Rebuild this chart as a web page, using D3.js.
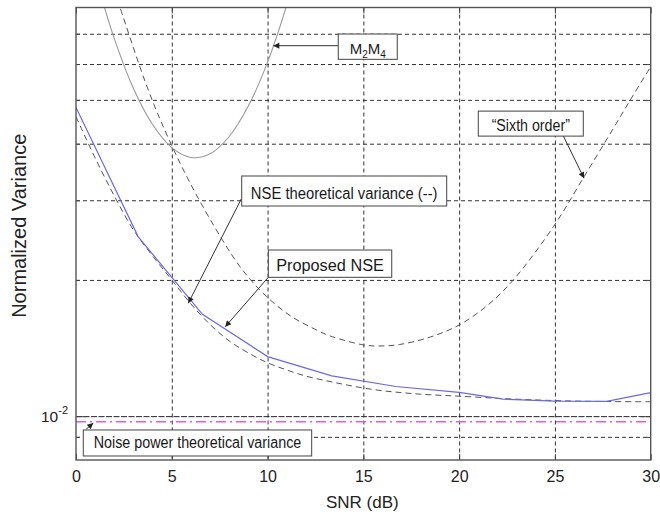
<!DOCTYPE html>
<html>
<head>
<meta charset="utf-8">
<script src="https://cdn.jsdelivr.net/npm/d3@7"></script>
<style>
  body { margin: 0; background: #fff; }
  svg { display: block; font-family: Arial, "Liberation Sans", sans-serif; }
</style>
</head>
<body>
<svg id="chart" width="660" height="514"></svg>
<script>
// ---- axes ----
const snrDomain = [0, 30];
const snrTicks = [0, 5, 10, 15, 20, 25, 30];
const varDomain = [0.008, 0.08];
const varGrid = [0.009, 0.01, 0.02, 0.03, 0.04, 0.05, 0.06, 0.07];

// ---- Proposed NSE (simulated) ----
const proposedSnr = [0, 3.25, 6.6, 10, 13.35, 16.7, 20, 22.3, 25, 27.7, 30];
const proposedVar = [0.0481, 0.0249, 0.01679, 0.01354, 0.01227, 0.01163, 0.01129, 0.01090, 0.01079, 0.01078, 0.01127];

// ---- NSE theoretical variance ----
const theorySnr = [0, 1, 2, 3, 4, 5, 6, 7, 8, 9, 10, 11, 12, 13, 14, 15, 16, 17, 18, 19, 20, 22, 24, 26, 28, 30];
const theoryVar = [0.0459, 0.0372, 0.03066, 0.02579, 0.02259, 0.0200, 0.0177, 0.01594, 0.01466, 0.01379, 0.01312,
                   0.01265, 0.01226, 0.01199, 0.01175, 0.01154, 0.01138, 0.01127, 0.01118, 0.01112, 0.01107,
                   0.01095, 0.01086, 0.01080, 0.01077, 0.01076];

// ---- "Sixth order" estimator ----
const sixthSnr = [2.0, 2.3, 3.77, 4.96, 6.4, 8.31, 9.12, 9.95, 11.2, 12.56, 13.26, 15.0, 15.8, 16.9, 18.5, 20, 21.5, 22.83, 24.92, 26.48, 28.0, 29.0, 30];
const sixthVar = [0.0874, 0.0800, 0.0526, 0.03995, 0.0302, 0.02214, 0.0200, 0.01837, 0.01665, 0.0155, 0.01504,
                  0.01437, 0.01429, 0.0144, 0.01496, 0.0159, 0.0176, 0.0200, 0.02622, 0.0336, 0.0429, 0.0505, 0.0592];

// ---- M2M4 estimator ----
const m2m4Snr = [1, 2, 3, 4, 5, 6, 7, 8, 9, 10, 11, 12];
const m2m4Var = [0.0941, 0.0683, 0.0530, 0.0441, 0.0392, 0.0373, 0.0380, 0.0415, 0.0485, 0.0606, 0.0810, 0.116];

// ---- noise power theoretical variance ----
const noiseSnr = [0, 30];
const noiseVar = [0.00972, 0.00972];

// ---- layout ----
const W = 660, H = 514;
const m = { top: 7.5, right: 9.3, bottom: 54, left: 76 };
const svg = d3.select("#chart");

const x = d3.scaleLinear().domain(snrDomain).range([m.left, W - m.right]);
const y = d3.scaleLog().domain(varDomain).range([H - m.bottom, m.top]);
const pw = W - m.left - m.right, ph = H - m.top - m.bottom;

svg.append("defs").append("clipPath").attr("id", "plot-clip")
  .append("rect").attr("x", m.left).attr("y", m.top).attr("width", pw).attr("height", ph);

const marker = svg.select("defs").append("marker")
  .attr("id", "arrow").attr("viewBox", "0 0 10 10")
  .attr("refX", 10).attr("refY", 5)
  .attr("markerWidth", 8).attr("markerHeight", 6)
  .attr("markerUnits", "userSpaceOnUse")
  .attr("orient", "auto");
marker.append("path").attr("d", "M0,0 L10,5 L0,10 Z").attr("fill", "#222");

// ---- grid ----
const grid = svg.append("g").attr("class", "grid");
grid.append("g")
  .attr("transform", `translate(0,${m.top})`)
  .call(d3.axisBottom(x).tickValues(snrTicks.filter(d => d > snrDomain[0] && d < snrDomain[1]))
    .tickSize(ph).tickFormat(""))
  .call(g => g.select(".domain").remove())
  .selectAll("line")
  .attr("stroke", "#333").attr("stroke-width", 1).attr("stroke-dasharray", "4,3");

grid.append("g")
  .attr("transform", `translate(${m.left},0)`)
  .call(d3.axisRight(y).tickValues(varGrid).tickSize(pw).tickFormat(""))
  .call(g => g.select(".domain").remove())
  .selectAll("line")
  .attr("stroke", d => d === 0.01 ? "#222" : "#333")
  .attr("stroke-width", 1)
  .attr("stroke-dasharray", d => d === 0.01 ? "6,1.5" : "4,3");

// ---- curves ----
const curves = svg.append("g").attr("clip-path", "url(#plot-clip)");
const zip = (xs, ys) => xs.map((v, i) => [v, ys[i]]);
const smooth = d3.line().x(d => x(d[0])).y(d => y(d[1])).curve(d3.curveCatmullRom.alpha(0.5));
const straight = d3.line().x(d => x(d[0])).y(d => y(d[1]));

curves.append("path").datum(zip(m2m4Snr, m2m4Var)).attr("d", smooth)
  .attr("fill", "none").attr("stroke", "#9a9a9a").attr("stroke-width", 1.1);

curves.append("path").datum(zip(sixthSnr, sixthVar)).attr("d", smooth)
  .attr("fill", "none").attr("stroke", "#555").attr("stroke-width", 1).attr("stroke-dasharray", "6,4");

curves.append("path").datum(zip(theorySnr, theoryVar)).attr("d", smooth)
  .attr("fill", "none").attr("stroke", "#555").attr("stroke-width", 1).attr("stroke-dasharray", "6,4");

curves.append("path").datum(zip(noiseSnr, noiseVar)).attr("d", straight)
  .attr("fill", "none").attr("stroke", "#e35be3").attr("stroke-width", 1.5).attr("stroke-dasharray", "10,4,2,4");

curves.append("path").datum(zip(proposedSnr, proposedVar)).attr("d", straight)
  .attr("fill", "none").attr("stroke", "#6a6ae6").attr("stroke-width", 1.2);

// ---- frame and ticks ----
const frame = svg.append("g");
frame.append("g").attr("transform", `translate(0,${H - m.bottom})`)
  .call(d3.axisBottom(x).tickValues(snrTicks).tickSize(-6).tickFormat(d3.format("d")))
  .call(g => g.select(".domain").remove())
  .call(g => g.selectAll("line").attr("stroke", "#444"))
  .call(g => g.selectAll("text").attr("y", 22).attr("dy", null)
    .attr("font-size", 16).attr("fill", "#222").attr("font-family", "Arial, 'Liberation Sans', sans-serif"));

frame.append("g").attr("transform", `translate(0,${m.top})`)
  .call(d3.axisTop(x).tickValues(snrTicks).tickSize(-6).tickFormat(""))
  .call(g => g.select(".domain").remove())
  .call(g => g.selectAll("line").attr("stroke", "#444"));

frame.append("g").attr("transform", `translate(${m.left},0)`)
  .call(d3.axisLeft(y).tickValues(varGrid).tickSize(-4).tickFormat(""))
  .call(g => g.select(".domain").remove())
  .call(g => g.selectAll("line").attr("stroke", "#444").attr("x2", d => d === 0.01 ? 10 : 4));

frame.append("g").attr("transform", `translate(${W - m.right},0)`)
  .call(d3.axisRight(y).tickValues(varGrid).tickSize(-4).tickFormat(""))
  .call(g => g.select(".domain").remove())
  .call(g => g.selectAll("line").attr("stroke", "#444").attr("x2", d => d === 0.01 ? -10 : -4));

frame.append("rect")
  .attr("x", m.left).attr("y", m.top).attr("width", pw).attr("height", ph)
  .attr("fill", "none").attr("stroke", "#555").attr("stroke-width", 1.4);

// y tick label 10^-2
const yl = svg.append("text").attr("x", m.left - 8).attr("y", y(0.01) + 5.7)
  .attr("text-anchor", "end").attr("fill", "#222");
yl.append("tspan").attr("font-size", 15.5).text("10");
yl.append("tspan").attr("font-size", 11).attr("dy", -8).text("-2");

// axis titles
svg.append("text")
  .attr("x", (m.left + W - m.right) / 2 - 1).attr("y", 508)
  .attr("text-anchor", "middle").attr("font-size", 17).attr("fill", "#222")
  .text("SNR (dB)");

svg.append("text")
  .attr("transform", `translate(25.5,${(m.top + H - m.bottom) / 2 - 8}) rotate(-90)`)
  .attr("text-anchor", "middle").attr("font-size", 20).attr("fill", "#222")
  .text("Normalized Variance");

// ---- callouts: box corner and arrow ends in data units (dB, variance) ----
const callouts = [
  { text: "NSE theoretical variance (--)", at: [8.65, 0.03394], w: 205, h: 30, tw: 186.7, ty: 23,
    from: [8.64, 0.03027], to: [5.86, 0.01776] },
  { text: "Proposed NSE", at: [10.04, 0.02329], w: 123.4, h: 27.3, tw: 107.7, ty: 20.7,
    from: [10.04, 0.02027], to: [7.79, 0.01576] },
  { text: "\u201CSixth order\u201D", at: [21.0, 0.04722], w: 105, h: 25, tw: 78.3, ty: 19.5,
    from: [25.44, 0.0416], to: [26.52, 0.03355] },
  { text: "Noise power theoretical variance", at: [0.38, 0.00932], w: 228.4, h: 26, tw: 207.6, ty: 18.5,
    from: [0.52, 0.009344], to: [0.90, 0.00966] },
  { text: null, at: [13.69, 0.0699], w: 59, h: 25.3, ty: 20,
    from: [13.69, 0.06587], to: [10.30, 0.06587] }
];

const notes = svg.append("g");
callouts.forEach(c => {
  notes.append("line")
    .attr("x1", x(c.from[0])).attr("y1", y(c.from[1]))
    .attr("x2", x(c.to[0])).attr("y2", y(c.to[1]))
    .attr("stroke", "#333").attr("stroke-width", 1)
    .attr("marker-end", "url(#arrow)");
  const bx = x(c.at[0]), by = y(c.at[1]);
  notes.append("rect").attr("x", bx).attr("y", by).attr("width", c.w).attr("height", c.h)
    .attr("fill", "#fff").attr("stroke", "#444").attr("stroke-width", 1);
  const t = notes.append("text").attr("y", by + c.ty).attr("fill", "#1a1a1a");
  if (c.text) {
    t.attr("x", bx + (c.w - c.tw) / 2).attr("font-size", 16)
      .attr("textLength", c.tw).attr("lengthAdjust", "spacingAndGlyphs")
      .text(c.text);
  } else {
    // M2M4 label with subscripts
    t.attr("x", bx + c.w / 2).attr("text-anchor", "middle").attr("font-size", 15);
    t.append("tspan").text("M");
    t.append("tspan").attr("font-size", 10).attr("dy", 4).text("2");
    t.append("tspan").attr("dy", -4).text("M");
    t.append("tspan").attr("font-size", 10).attr("dy", 4).text("4");
  }
});
</script>
</body>
</html>
